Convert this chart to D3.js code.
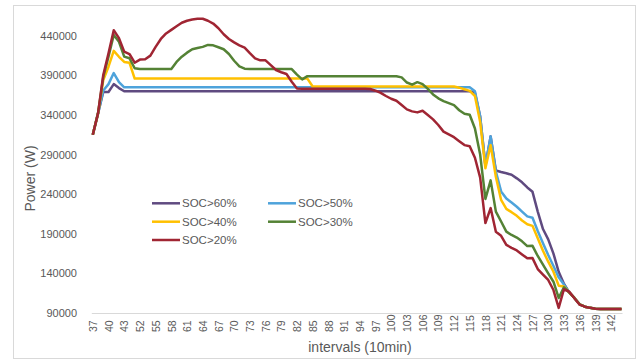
<!DOCTYPE html>
<html>
<head>
<meta charset="utf-8">
<script src="https://cdn.jsdelivr.net/npm/d3@7"></script>
<style>
  html, body { margin: 0; padding: 0; background: #fff; }
  svg { display: block; }
  text { font-family: "Liberation Sans", Arial, sans-serif; fill: #595959; }
</style>
</head>
<body>
<svg id="chart" width="641" height="360"></svg>
<script>
// ---- data ----
const categories = [37, 38, 39, 40, 41, 42, 43, 50, 51, 52,
  53, 54, 55, 56, 57, 58, 59, 60, 61, 62,
  63, 64, 65, 66, 67, 68, 69, 70, 71, 72,
  73, 74, 75, 76, 77, 78, 79, 80, 81, 82,
  83, 84, 85, 86, 87, 88, 89, 90, 91, 92,
  93, 94, 95, 96, 97, 98, 99, 100, 101, 102,
  103, 104, 105, 106, 107, 108, 109, 110, 111, 112,
  113, 114, 115, 116, 117, 118, 119, 120, 121, 122,
  123, 124, 125, 126, 127, 128, 129, 130, 131, 132,
  133, 134, 135, 136, 137, 138, 139, 140, 141, 142,
  143, 144];

const soc60 = [315000, 342000, 369000, 369000, 379000, 374000, 370000, 370000, 370000, 370000,
  370000, 370000, 370000, 370000, 370000, 370000, 370000, 370000, 370000, 370000,
  370000, 370000, 370000, 370000, 370000, 370000, 370000, 370000, 370000, 370000,
  370000, 370000, 370000, 370000, 370000, 370000, 370000, 370000, 370000, 370000,
  370000, 370000, 370000, 370000, 370000, 370000, 370000, 370000, 370000, 370000,
  370000, 370000, 370000, 370000, 370000, 370000, 370000, 370000, 370000, 370000,
  370000, 370000, 370000, 370000, 370000, 370000, 370000, 370000, 370000, 370000,
  370000, 370000, 370000, 368000, 338000, 276000, 313000, 270000, 268000, 266500,
  264500, 260000, 255000, 248500, 243000, 218000, 196000, 183000, 165000, 142000,
  127000, 116000, 109000, 101000, 98000, 96500, 95500, 95000, 95000, 95000,
  95000, 95000];

const soc50 = [315000, 342000, 371000, 379000, 393000, 381500, 375000, 375000, 375000, 375000,
  375000, 375000, 375000, 375000, 375000, 375000, 375000, 375000, 375000, 375000,
  375000, 375000, 375000, 375000, 375000, 375000, 375000, 375000, 375000, 375000,
  375000, 375000, 375000, 375000, 375000, 375000, 375000, 375000, 375000, 375000,
  375000, 375000, 375000, 375000, 375000, 375000, 375000, 375000, 375000, 375000,
  375000, 375000, 375000, 375000, 375000, 375000, 375000, 375000, 375000, 375000,
  375000, 375000, 375000, 375000, 375000, 375000, 375000, 375000, 375000, 375000,
  375000, 375000, 375000, 370000, 338000, 276000, 313000, 268500, 243500, 234500,
  229500, 224200, 218000, 212000, 210300, 193500, 178000, 163200, 149300, 135000,
  126000, 116000, 109000, 101000, 98000, 96500, 95500, 95000, 95000, 95000,
  95000, 95000];

const soc40 = [315000, 342000, 384000, 401000, 421000, 413500, 407000, 406000, 386000, 386000,
  386000, 386000, 386000, 386000, 386000, 386000, 386000, 386000, 386000, 386000,
  386000, 386000, 386000, 386000, 386000, 386000, 386000, 386000, 386000, 386000,
  386000, 386000, 386000, 386000, 386000, 386000, 386000, 386000, 386000, 386000,
  386000, 386000, 376000, 376000, 376000, 376000, 376000, 376000, 376000, 376000,
  376000, 376000, 376000, 376000, 376000, 376000, 376000, 376000, 376000, 376000,
  376000, 376000, 376000, 376000, 376000, 376000, 376000, 376000, 376000, 376000,
  374500, 372500, 370500, 364000, 331000, 272700, 302000, 262000, 232700, 221500,
  217300, 212700, 206800, 202000, 200000, 184500, 168500, 154800, 142100, 124500,
  123500, 116000, 109000, 101000, 98000, 96500, 95500, 95000, 95000, 95000,
  95000, 95000];

const soc30 = [315000, 342000, 388000, 413700, 441000, 432500, 413700, 411600, 399000, 398000,
  398000, 398000, 398000, 398000, 398000, 398000, 407000, 413700, 418700, 423000,
  424500, 426000, 428500, 428000, 425500, 423000, 417000, 408500, 401500, 398500,
  398000, 398000, 398000, 398000, 398000, 398000, 398000, 398000, 398000, 391000,
  385000, 389000, 389000, 389000, 389000, 389000, 389000, 389000, 389000, 389000,
  389000, 389000, 389000, 389000, 389000, 389000, 389000, 389000, 389000, 387500,
  381000, 378300, 381500, 379000, 373000, 366000, 361000, 357500, 355000, 352500,
  346000, 341500, 340300, 323000, 290000, 234000, 257500, 218000, 205500, 192700,
  188500, 185300, 180500, 174500, 174800, 162000, 151000, 140000, 129500, 109000,
  122500, 116000, 109000, 101000, 98000, 96500, 95500, 95000, 95000, 95000,
  95000, 95000];

const soc20 = [315000, 342000, 390500, 418000, 447000, 437000, 420000, 417000, 406000, 410000,
  410500, 415000, 426000, 436000, 443000, 447500, 452000, 456500, 459000, 460500,
  461500, 461500, 459000, 455500, 449500, 442000, 436000, 431700, 428000, 425000,
  418000, 411600, 409000, 409000, 403000, 396800, 394000, 391800, 382000, 373500,
  373000, 373000, 373000, 373000, 373000, 373000, 373000, 373000, 373000, 373000,
  373000, 373000, 373000, 372800, 370700, 368000, 364000, 360500, 358000, 352600,
  347100, 344600, 343300, 345400, 340000, 334500, 327400, 319000, 315500, 312000,
  307000, 302000, 300500, 286000, 261000, 203500, 222500, 192700, 187500, 176000,
  172300, 169000, 164000, 159000, 159300, 145500, 138500, 131700, 119000, 96500,
  120000, 117000, 108600, 100500, 98000, 96500, 95500, 95000, 95000, 95000,
  95000, 95000];

const seriesNames = ["SOC>60%", "SOC>50%", "SOC>40%", "SOC>30%", "SOC>20%"];
const yTickValues = [90000, 140000, 190000, 240000, 290000, 340000, 390000, 440000];
const xAxisTitle = "intervals (10min)";
const yAxisTitle = "Power (W)";

// ---- drawing ----
const colors = ["#5f4a80", "#4ea3db", "#ffc000", "#548235", "#a02533"];
const seriesData = [soc60, soc50, soc40, soc30, soc20];

const svg = d3.select("#chart");

svg.append("rect")
  .attr("x", 13.5).attr("y", 5.5).attr("width", 622).attr("height", 353)
  .attr("fill", "#fff").attr("stroke", "#d9d9d9").attr("stroke-width", 1);

const x = d3.scalePoint().domain(categories).range([92.8, 621.5]);
const y = d3.scaleLinear().domain([90000, 440000]).range([313, 35.8]);

// y axis
const yAxis = svg.append("g")
  .attr("transform", "translate(79,0)")
  .call(d3.axisLeft(y).tickValues(yTickValues).tickSize(0).tickPadding(2).tickFormat(d3.format("d")));
yAxis.select(".domain").remove();
yAxis.selectAll("text")
  .style("font-family", '"Liberation Sans", Arial, sans-serif')
  .style("font-size", "11px").attr("fill", "#595959");

// x axis
const xTicks = categories.filter((d, i) => i % 3 === 0);
const xAxis = svg.append("g")
  .attr("transform", "translate(0,313)")
  .call(d3.axisBottom(x).tickValues(xTicks).tickSize(0));
xAxis.select(".domain").attr("stroke", "#d9d9d9").attr("stroke-width", 1)
  .attr("d", `M${x(categories[0]) - 1},0.5H${x(categories[categories.length - 1]) + 1}`);
xAxis.selectAll("text")
  .attr("transform", "rotate(-90)")
  .attr("x", -19).attr("y", 0).attr("dy", "0.35em")
  .attr("text-anchor", "start")
  .style("font-family", '"Liberation Sans", Arial, sans-serif')
  .style("font-size", "10.5px").attr("fill", "#595959");

// lines
const line = d3.line()
  .x((d, i) => x(categories[i]))
  .y(d => y(d));

seriesData.forEach((s, k) => {
  svg.append("path")
    .datum(s)
    .attr("fill", "none")
    .attr("stroke", colors[k])
    .attr("stroke-width", 2.5)
    .attr("stroke-linejoin", "round")
    .attr("d", line);
});

// axis titles
svg.append("text")
  .attr("x", 360).attr("y", 352)
  .attr("text-anchor", "middle")
  .style("font-size", "14px")
  .text(xAxisTitle);

svg.append("text")
  .attr("transform", "translate(35,178.5) rotate(-90)")
  .attr("text-anchor", "middle")
  .style("font-size", "14px")
  .text(yAxisTitle);

// legend
const legendPos = [[152, 203.3], [268, 203.3], [152, 221.7], [268, 221.7], [152, 240]];
seriesNames.forEach((name, k) => {
  const [lx, ly] = legendPos[k];
  svg.append("line")
    .attr("x1", lx).attr("x2", lx + 28).attr("y1", ly).attr("y2", ly)
    .attr("stroke", colors[k]).attr("stroke-width", 2.5);
  svg.append("text")
    .attr("x", lx + 30).attr("y", ly).attr("dy", "0.35em")
    .style("font-size", "11.5px")
    .text(name);
});
</script>
</body>
</html>
